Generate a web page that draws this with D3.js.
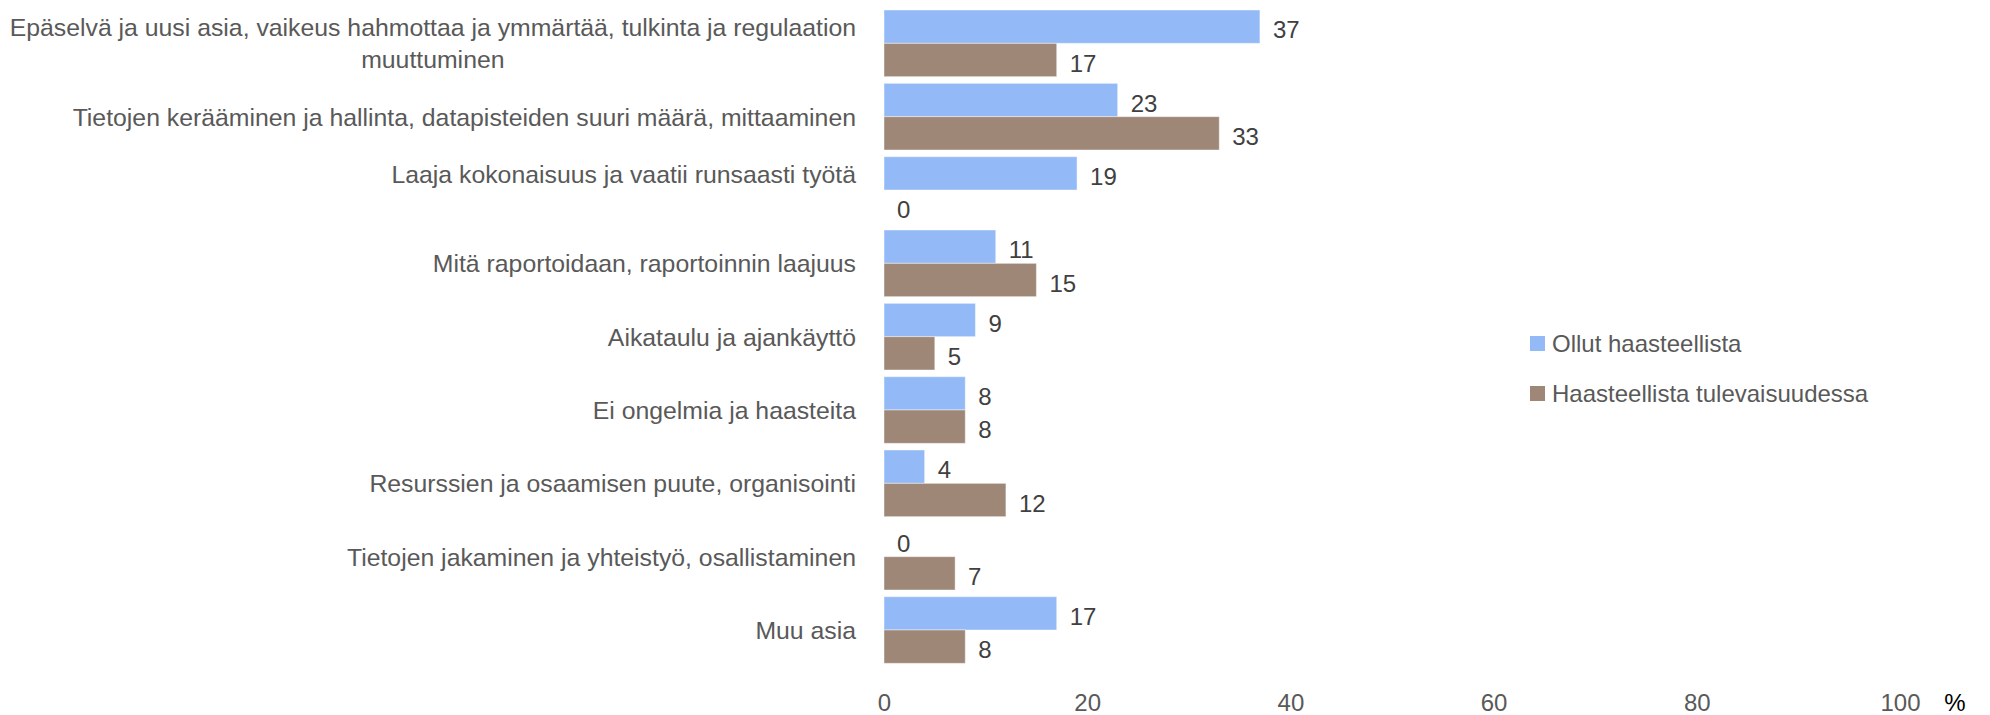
<!DOCTYPE html>
<html>
<head>
<meta charset="utf-8">
<script src="https://cdn.jsdelivr.net/npm/d3@7"></script>
<style>
  html, body { margin: 0; padding: 0; background: #ffffff; }
  svg { display: block; }
</style>
</head>
<body>
<svg id="chart" width="1990" height="715"></svg>
<script>
// ---- DATA ----
const categories = [
  ["Epäselvä ja uusi asia, vaikeus hahmottaa ja ymmärtää, tulkinta ja regulaation", "muuttuminen"],
  ["Tietojen kerääminen ja hallinta, datapisteiden suuri määrä, mittaaminen"],
  ["Laaja kokonaisuus ja vaatii runsaasti työtä", ""],
  ["Mitä raportoidaan, raportoinnin laajuus"],
  ["Aikataulu ja ajankäyttö"],
  ["Ei ongelmia ja haasteita"],
  ["Resurssien ja osaamisen puute, organisointi"],
  ["Tietojen jakaminen ja yhteistyö, osallistaminen"],
  ["Muu asia"]
];
const seriesNames = ["Ollut haasteellista", "Haasteellista tulevaisuudessa"];
const ollutValues = [37, 23, 19, 11, 9, 8, 4, 0, 17];
const tulevaValues = [17, 33, 0, 15, 5, 8, 12, 7, 8];
const xTicks = [0, 20, 40, 60, 80, 100];
const unitLabel = "%";
const seriesColors = ["#93BAF6", "#9E8777"];

// ---- LAYOUT ----
const FONT = "'Liberation Sans', Arial, sans-serif";
const svg = d3.select("#chart");
svg.append("rect").attr("width", 1990).attr("height", 715).attr("fill", "#ffffff");

const catKeys = categories.map((c, i) => i);
const x = d3.scaleLinear().domain([0, 100]).range([884, 1900]);
const y = d3.scaleBand().domain(catKeys).range([6.67, 666.67]).paddingInner(0.0909).paddingOuter(0.04545);
const ySub = d3.scaleBand().domain([0, 1]).range([0, y.bandwidth()]).padding(0);

const rows = catKeys.map(i => ({ i, vals: [ollutValues[i], tulevaValues[i]] }));

const g = svg.append("g");
const groups = g.selectAll("g.cat").data(rows).join("g")
  .attr("class", "cat")
  .attr("transform", d => `translate(0,${y(d.i)})`);

groups.selectAll("rect").data(d => d.vals.map((v, s) => ({ v, s }))).join("rect")
  .attr("x", x(0))
  .attr("y", d => ySub(d.s))
  .attr("width", d => x(d.v) - x(0))
  .attr("height", ySub.bandwidth())
  .attr("fill", d => seriesColors[d.s])
  .attr("stroke", "rgba(255,255,255,0.45)")
  .attr("stroke-width", 1);

groups.selectAll("text.val").data(d => d.vals.map((v, s) => ({ v, s }))).join("text")
  .attr("class", "val")
  .attr("x", d => x(d.v) + 13)
  .attr("y", d => ySub(d.s) + ySub.bandwidth() / 2 + 3)
  .attr("dy", "0.36em")
  .attr("font-family", FONT)
  .attr("font-size", 24)
  .attr("fill", "#404040")
  .text(d => d.v);

// Category labels (right aligned block, lines centered within block)
const labelRight = 856;
const lineGap = 32;
const catLabel = svg.append("g");
rows.forEach(r => {
  const lines = categories[r.i];
  const cy = y(r.i) + y.bandwidth() / 2;
  const grp = catLabel.append("g");
  const texts = lines.map((ln, k) => grp.append("text")
    .attr("font-family", FONT)
    .attr("font-size", 24.8)
    .attr("fill", "#595959")
    .attr("y", cy + (k - (lines.length - 1) / 2) * lineGap)
    .attr("dy", "0.36em")
    .attr("text-anchor", "middle")
    .text(ln));
  const widths = texts.map(t => t.node().getComputedTextLength());
  const maxW = d3.max(widths);
  texts.forEach(t => t.attr("x", labelRight - maxW / 2));
});

// X axis
const axis = d3.axisBottom(x).tickValues(xTicks).tickSize(0).tickPadding(0).tickFormat(d3.format("d"));
const ax = svg.append("g").attr("transform", "translate(0,702)").call(axis);
ax.select(".domain").remove();
ax.selectAll("text")
  .attr("y", 0)
  .attr("dy", "0.36em")
  .attr("font-family", FONT)
  .attr("font-size", 24)
  .attr("fill", "#595959");

svg.append("text")
  .attr("x", 1955).attr("y", 702).attr("dy", "0.36em")
  .attr("text-anchor", "middle")
  .attr("font-family", FONT).attr("font-size", 24)
  .attr("fill", "#000000")
  .text(unitLabel);

// Legend
const legend = svg.append("g").attr("transform", "translate(1530,336)");
seriesNames.forEach((name, s) => {
  const lg = legend.append("g").attr("transform", `translate(0,${s * 50})`);
  lg.append("rect").attr("width", 15).attr("height", 15).attr("fill", seriesColors[s]);
  lg.append("text")
    .attr("x", 22).attr("y", 7.5).attr("dy", "0.36em")
    .attr("font-family", FONT).attr("font-size", 24)
    .attr("fill", "#595959")
    .text(name);
});
</script>
</body>
</html>
